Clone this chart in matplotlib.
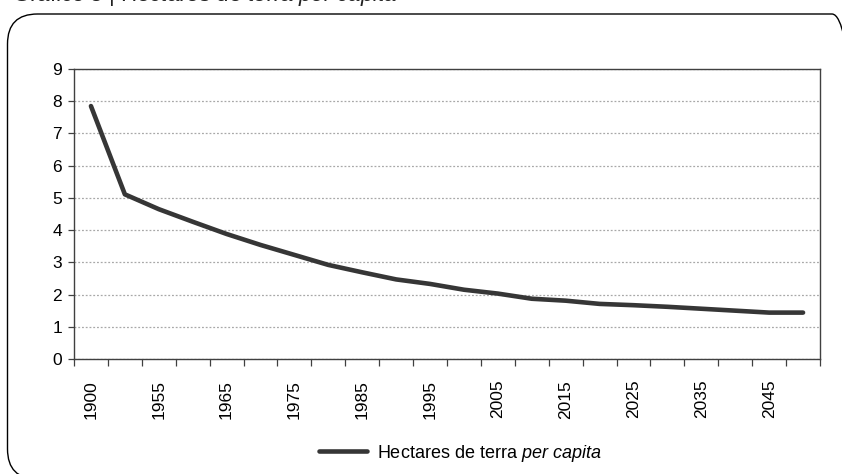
import numpy as np
import matplotlib.pyplot as plt
from matplotlib.patches import FancyBboxPatch

plt.rcParams['font.family'] = ['Liberation Sans', 'DejaVu Sans']
plt.rcParams['mathtext.fontset'] = 'custom'
plt.rcParams['mathtext.it'] = 'Liberation Sans:italic'
plt.rcParams['mathtext.rm'] = 'Liberation Sans'

# data
years = ['1900', '1950', '1955', '1960', '1965', '1970', '1975', '1980', '1985', '1990', '1995',
         '2000', '2005', '2010', '2015', '2020', '2025', '2030', '2035', '2040', '2045', '2050']
hectares = [7.85, 5.11, 4.65, 4.26, 3.88, 3.54, 3.23, 2.92, 2.69, 2.47, 2.33,
            2.15, 2.03, 1.87, 1.81, 1.71, 1.67, 1.62, 1.56, 1.50, 1.44, 1.44]
series_name = 'Hectares de terra $\\mathit{per\\ capita}$'

W, H = 842, 474
fig = plt.figure(figsize=(W / 100, H / 100), dpi=100)

# rounded frame round the chart, in pixels from bottom-left
r = 30
left, right, bottom, top = 7.5, 862, -5, H - 14
box = FancyBboxPatch((left, bottom), right - left, top - bottom,
                     boxstyle='round,pad=0,rounding_size=%d' % r, transform=None,
                     facecolor='none', edgecolor='black', linewidth=1.0,
                     clip_on=False)
fig.add_artist(box)

# title, mostly cut off at the top of the picture
fig.text(12 / W, 1 - 1.5 / H, 'Gráfico 3 | Hectares de terra $\\mathit{per\\ capita}$',
         fontsize=16, va='baseline', ha='left', color='#222222')

ax = fig.add_axes([74 / W, 1 - 359 / H, (820 - 74) / W, (359 - 69) / H])
x = np.arange(len(years))
ax.plot(x, hectares, color='#363636', linewidth=3.3, solid_capstyle='round',
        solid_joinstyle='round', label=series_name, zorder=3)

ax.set_xlim(-0.5, len(years) - 0.5)
ax.set_ylim(0, 9)
ax.set_yticks(range(0, 10))
ax.yaxis.grid(True, color='#a8a8a8', linestyle=(0, (1.5, 1.5)), linewidth=0.9)
ax.set_axisbelow(True)

# ticks between categories, labels on every other category
ax.set_xticks(np.arange(-0.5, len(years), 1))
ax.set_xticklabels([])
ax.set_xticks(x[::2], minor=True)
ax.set_xticklabels(years[::2], minor=True, rotation=90)
ax.tick_params(axis='x', which='major', length=5, width=0.9, color='#404040', direction='out')
ax.tick_params(axis='x', which='minor', length=0, pad=15, labelsize=12.5)
ax.tick_params(axis='y', length=4, width=0.9, color='#404040', direction='out', pad=4.5, labelsize=12.5)

for s in ax.spines.values():
    s.set_color('#404040')
    s.set_linewidth(1.0)

ax.legend(loc='center left', bbox_to_anchor=(303 / W, 1 - 453 / H), bbox_transform=fig.transFigure,
          frameon=False, fontsize=13, handlelength=2.65, handletextpad=0.55)

fig.savefig('out.png', dpi=100)
